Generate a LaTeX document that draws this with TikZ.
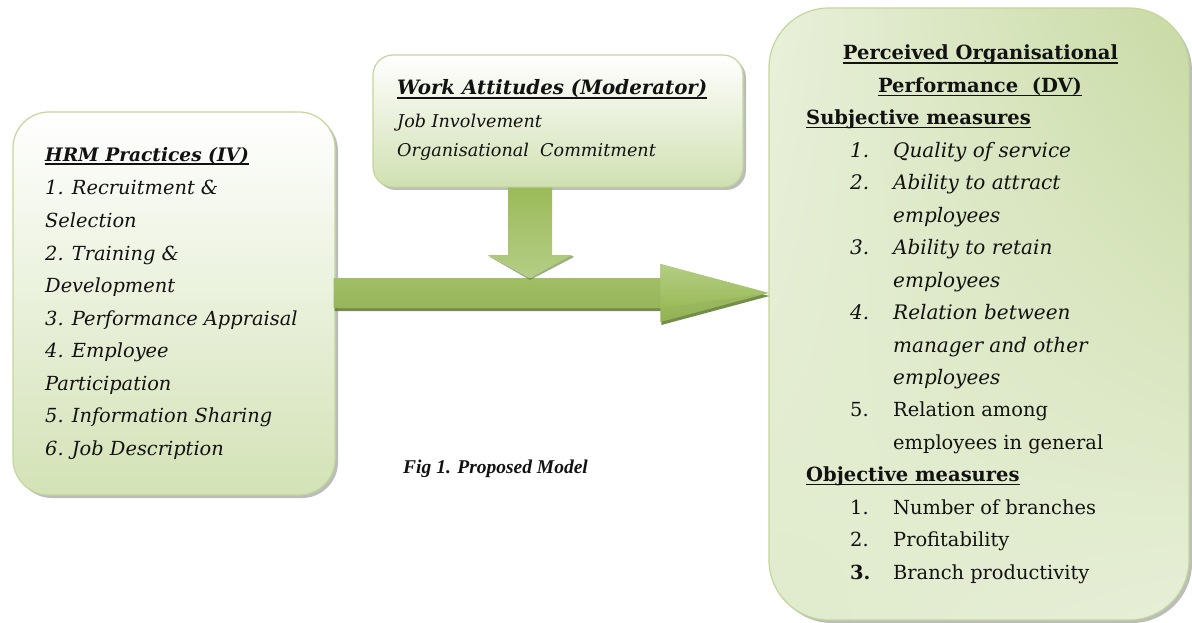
\documentclass[tikz,border=0pt]{standalone}
\usepackage{fontspec}
\setmainfont{DejaVu Serif}
\newfontfamily\capfont{Liberation Serif}
\usetikzlibrary{calc,shadows,shadings}

\definecolor{arrowgreen}{HTML}{9BBB59}
\definecolor{arrowlight}{HTML}{B4CD85}
\definecolor{arrowdark}{HTML}{5B7B2C}
\definecolor{boxline}{HTML}{C3D69B}
\definecolor{boxgreen}{HTML}{D3E2B6}
\definecolor{textcol}{HTML}{121212}

% underline sitting just below the baseline
\newcommand\ulinetext[1]{\setbox0\hbox{#1}\rlap{\rule[-3.6pt]{\wd0}{1.3pt}}\box0}

% type sizes
\newcommand\hrmhead{\fontsize{18.6}{22}\selectfont\bfseries\itshape}
\newcommand\modhead{\fontsize{19.8}{22}\selectfont\bfseries\itshape}
\newcommand\itemfont{\fontsize{19.4}{22}\selectfont\itshape}
\newcommand\modfont{\fontsize{17.6}{20}\selectfont\itshape}
\newcommand\dvhead{\fontsize{19.5}{22}\selectfont\bfseries}
\newcommand\dvit{\fontsize{20}{22}\selectfont\itshape}
\newcommand\dvup{\fontsize{19.4}{22}\selectfont}

\begin{document}
\begin{tikzpicture}[x=1pt,y=-1pt,
  box/.style={draw=boxline, line width=1.2pt, inner sep=0pt,
    drop shadow={shadow xshift=3pt, shadow yshift=-3pt, fill=black!70!boxgreen, opacity=0.35}},
  txt/.style={anchor=base west, inner sep=0pt, text=textcol},
  ctxt/.style={anchor=base, inner sep=0pt, text=textcol},
  arrowbody/.style={top color=arrowgreen!90!white, bottom color=arrowgreen!95!black},
  arrowshadow/.style={fill=arrowdark, opacity=0.85}]

\fill[white] (0,0) rectangle (1192,623);
\useasboundingbox (0,0) rectangle (1192,623);

% the three boxes
\node[box, rounded corners=36pt, minimum width=322pt, minimum height=383pt,
      top color=white, bottom color=boxgreen] (hrm) at (174,303.5) {};
\node[box, rounded corners=20pt, minimum width=370pt, minimum height=132pt,
      shading=axis, shading angle=20, top color=white, bottom color=boxgreen!95!arrowgreen] (mod) at (558,121) {};
\node[box, rounded corners=60pt, minimum width=420pt, minimum height=612pt,
      upper left=boxgreen!50!white, upper right=boxgreen!80!arrowgreen,
      lower left=boxgreen!70!white, lower right=boxgreen!55!white] (pop) at (979,314) {};

% main arrow: practices -> performance
\coordinate (tip) at (pop.west |- 0,293);
\coordinate (tail) at (hrm.east |- tip);
\coordinate (shafttop) at ($(tail)+(0,-15)$);
\path[arrowshadow]
  ($(tail)+(-1,-12)$) -- ($(tip)+(-107,-12)$) -- ($(tip)+(-107,-26)$) -- ($(tip)+(1,3)$)
  -- ($(tip)+(-107,32)$) -- ($(tip)+(-107,18)$) -- ($(tail)+(-1,18)$) -- cycle;
\path[arrowbody]
  ($(tail)+(-2,-15)$) -- ($(tip)+(-108,-15)$) -- ($(tip)+(-108,-29)$) -- (tip)
  -- ($(tip)+(-108,29)$) -- ($(tip)+(-108,15)$) -- ($(tail)+(-2,15)$) -- cycle;
\path[top color=arrowlight, bottom color=arrowgreen]
  ($(tip)+(-108,-29)$) -- (tip) -- ($(tip)+(-108,15)$) -- ($(tip)+(-108,-15)$) -- cycle;

% moderator arrow: work attitudes -> main arrow
\coordinate (dtop) at ($(mod.south)+(-28,0)$);
\coordinate (dtip) at (dtop |- shafttop);
\path[arrowshadow, opacity=0.6]
  ($(dtip)+(-40,-21)$) -- ($(dtip)+(0,2)$) -- ($(dtip)+(44,-21)$) -- ($(dtip)+(40,-23)$) -- (dtip) -- ($(dtip)+(-42,-23)$) -- cycle;
\path[top color=arrowgreen, bottom color=arrowlight]
  ($(dtop)+(-22,0)$) -- ($(dtip)+(-22,-23)$) -- ($(dtip)+(-42,-23)$) -- (dtip)
  -- ($(dtip)+(42,-23)$) -- ($(dtip)+(22,-23)$) -- ($(dtop)+(22,0)$) -- cycle;

% HRM practices
\node[txt] (hrmtitle) at (45,161) {\hrmhead\ulinetext{HRM Practices (IV)}};
\node[txt] (h1) at (45,195) {\itemfont 1. Recruitment \&};
\node[txt] (h2) at (45,227.5) {\itemfont Selection};
\node[txt] (h3) at (45,260) {\itemfont 2. Training \&};
\node[txt] (h4) at (45,292.5) {\itemfont Development};
\node[txt] (h5) at (45,325) {\itemfont 3. Performance Appraisal};
\node[txt] (h6) at (45,357.5) {\itemfont 4. Employee};
\node[txt] (h7) at (45,390) {\itemfont Participation};
\node[txt] (h8) at (45,422.5) {\itemfont 5. Information Sharing};
\node[txt] (h9) at (45,455) {\itemfont 6. Job Description};

% work attitudes
\node[txt] (modtitle) at (397,95) {\modhead\ulinetext{Work Attitudes (Moderator)}};
\node[txt] (m1) at (397,128) {\modfont Job Involvement};
\node[txt] (m2) at (397,157) {\modfont Organisational\ \ Commitment};

% perceived organisational performance
\node[ctxt] (dv1) at (980.5,60) {\dvhead\ulinetext{Perceived Organisational}};
\node[ctxt] (dv2) at (980,92.4) {\dvhead\ulinetext{Performance\ \ (DV)}};
\node[txt] (subj) at (806,124.9) {\dvhead\ulinetext{Subjective measures}};
\node[txt] (s1n) at (850,157.3) {\dvit 1.};
\node[txt] (s1)  at (893,157.3) {\dvit Quality of service};
\node[txt] (s2n) at (850,189.8) {\dvit 2.};
\node[txt] (s2)  at (893,189.8) {\dvit Ability to attract};
\node[txt] (s2b) at (893,222.2) {\dvit employees};
\node[txt] (s3n) at (850,254.6) {\dvit 3.};
\node[txt] (s3)  at (893,254.6) {\dvit Ability to retain};
\node[txt] (s3b) at (893,287.1) {\dvit employees};
\node[txt] (s4n) at (850,319.5) {\dvit 4.};
\node[txt] (s4)  at (893,319.5) {\dvit Relation between};
\node[txt] (s4b) at (893,352) {\dvit manager and other};
\node[txt] (s4c) at (893,384.4) {\dvit employees};
\node[txt] (s5n) at (850,416.8) {\dvup 5.};
\node[txt] (s5)  at (893,416.8) {\dvup Relation among};
\node[txt] (s5b) at (893,449.3) {\dvup employees in general};
\node[txt] (obj) at (806,481.7) {\dvhead\ulinetext{Objective measures}};
\node[txt] (o1n) at (850,514.2) {\dvup 1.};
\node[txt] (o1)  at (893,514.2) {\dvup Number of branches};
\node[txt] (o2n) at (850,546.6) {\dvup 2.};
\node[txt] (o2)  at (893,546.6) {\dvup Profitability};
\node[txt] (o3n) at (850,579) {\dvup\bfseries 3.};
\node[txt] (o3)  at (893,579) {\dvup Branch productivity};

% caption
\node[txt] (caption) at (403,473) {\capfont\fontsize{19.5}{22}\selectfont\bfseries\itshape Fig 1. Proposed Model};
\end{tikzpicture}
\end{document}
